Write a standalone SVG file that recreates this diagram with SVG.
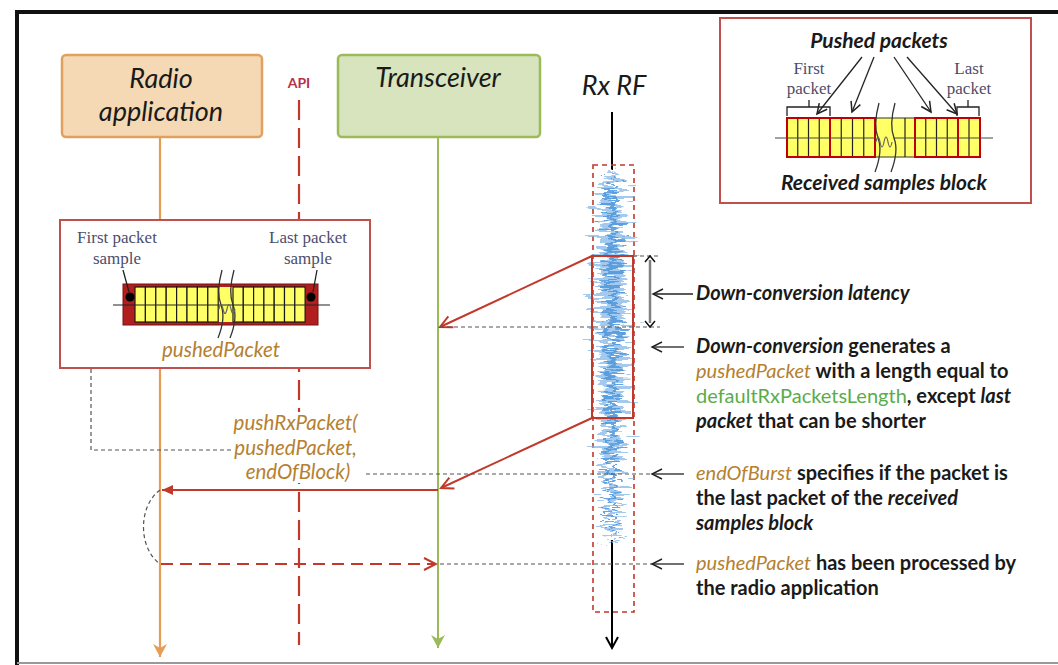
<svg xmlns="http://www.w3.org/2000/svg" width="1058" height="665" viewBox="0 0 1058 665">
  <style>
    .sans { font-family: Lato, 'Liberation Sans', sans-serif; }
    .serif { font-family: 'Liberation Serif', serif; font-size: 17px; fill: #4d4d6b; }
    .title { font-family: Lato, 'Liberation Sans', sans-serif; font-style: italic; font-size: 27px; fill: #1a1a1a; }
    .note { font-family: Lato, 'Liberation Sans', sans-serif; font-size: 20px; font-weight: 700; fill: #1a1a1a; }
    .it { font-style: italic; }
    .code { fill: #b5812f; font-style: italic; font-weight: 400; }
    .grn { fill: #5aac4a; font-weight: 400; }
    .gdash { stroke: #555; stroke-width: 1.2; stroke-dasharray: 4 3; fill: none; }
    .red { stroke: #c0392b; stroke-width: 2; fill: none; }
    .frame { fill: #fff; stroke: #c0504d; stroke-width: 2; }
    .cell { fill: #ffff66; stroke: #1a1a1a; stroke-width: 1.2; }
    .thin { stroke: #222; stroke-width: 1.3; fill: none; }
  </style>
  <defs>
    <marker id="arrOrange" markerUnits="userSpaceOnUse" viewBox="-14 -8 16 16" markerWidth="16" markerHeight="16" refX="0" refY="0" orient="auto">
      <path d="M0,0 L-13,-7 L-9,0 L-13,7 Z" fill="#e59d55"/>
    </marker>
    <marker id="arrGreen" markerUnits="userSpaceOnUse" viewBox="-14 -8 16 16" markerWidth="16" markerHeight="16" refX="0" refY="0" orient="auto">
      <path d="M0,0 L-13,-7 L-9,0 L-13,7 Z" fill="#9bbb59"/>
    </marker>
    <marker id="arrBlack" markerUnits="userSpaceOnUse" viewBox="-14 -8 16 16" markerWidth="16" markerHeight="16" refX="0" refY="0" orient="auto">
      <path d="M-11,-6 L0,0 L-11,6" fill="none" stroke="#000" stroke-width="2"/>
    </marker>
    <marker id="arrRedOpen" markerUnits="userSpaceOnUse" viewBox="-14 -8 16 16" markerWidth="16" markerHeight="16" refX="0" refY="0" orient="auto">
      <path d="M-12,-6 L0,0 L-12,6" fill="none" stroke="#c0392b" stroke-width="2"/>
    </marker>
    <marker id="arrRedFill" markerUnits="userSpaceOnUse" viewBox="-14 -8 16 16" markerWidth="16" markerHeight="16" refX="0" refY="0" orient="auto">
      <path d="M0,0 L-11,-5 L-11,5 Z" fill="#c0392b"/>
    </marker>
    <marker id="arrThin" markerUnits="userSpaceOnUse" viewBox="-14 -8 16 16" markerWidth="16" markerHeight="16" refX="0" refY="0" orient="auto">
      <path d="M-10,-5 L0,0 L-10,5" fill="none" stroke="#222" stroke-width="1.4"/>
    </marker>
    <marker id="arrPush" markerUnits="userSpaceOnUse" viewBox="-14 -8 16 16" markerWidth="16" markerHeight="16" refX="0" refY="0" orient="auto">
      <path d="M-10,-5 L0,0 L-10,5" fill="none" stroke="#222" stroke-width="1.5"/>
    </marker>
    <!-- horizontal jitter used to turn smooth shapes into a noisy RF trace -->
    <filter id="jitter" filterUnits="userSpaceOnUse" x="575" y="150" width="80" height="420" color-interpolation-filters="sRGB">
      <feTurbulence type="fractalNoise" baseFrequency="0.04 0.28" numOctaves="2" seed="7" result="n"/>
      <feColorMatrix in="n" type="matrix" values="1 0 0 0 0  0 0 0 0 0.5  0 0 0 0 0  0 0 0 0 1" result="m"/>
      <feDisplacementMap in="SourceGraphic" in2="m" scale="60" xChannelSelector="R" yChannelSelector="G" result="d"/>
      <feGaussianBlur in="d" stdDeviation="0.7"/>
    </filter>
    <filter id="jitter2" filterUnits="userSpaceOnUse" x="575" y="150" width="80" height="420" color-interpolation-filters="sRGB">
      <feTurbulence type="fractalNoise" baseFrequency="0.06 0.35" numOctaves="2" seed="23" result="n"/>
      <feColorMatrix in="n" type="matrix" values="1 0 0 0 0  0 0 0 0 0.5  0 0 0 0 0  0 0 0 0 1" result="m"/>
      <feDisplacementMap in="SourceGraphic" in2="m" scale="40" xChannelSelector="R" yChannelSelector="G" result="d"/>
      <feGaussianBlur in="d" stdDeviation="0.6"/>
    </filter>
  </defs>

  <rect width="1058" height="665" fill="#fff"/>
  <!-- outer frame -->
  <path d="M17,665 V12 H1058" fill="none" stroke="#111" stroke-width="4"/>
  <line x1="17" y1="663" x2="1058" y2="663" stroke="#999" stroke-width="2"/>

  <!-- lifelines -->
  <g id="lifelines">
    <line x1="160" y1="137" x2="160" y2="657" stroke="#e59d55" stroke-width="2.2" marker-end="url(#arrOrange)"/>
    <line x1="299" y1="100" x2="299" y2="645" stroke="#c0392b" stroke-width="2.2" stroke-dasharray="20 8"/>
    <line x1="438" y1="137" x2="438" y2="648" stroke="#9bbb59" stroke-width="2" marker-end="url(#arrGreen)"/>
    <line x1="612" y1="112" x2="612" y2="170" stroke="#000" stroke-width="2"/>
    <line x1="612" y1="540" x2="612" y2="648" stroke="#000" stroke-width="2" marker-end="url(#arrBlack)"/>
  </g>

  <!-- header nodes -->
  <g id="radio-app">
    <rect x="62" y="55" width="200" height="82" rx="4" fill="#f5d9b5" stroke="#e0a060" stroke-width="2.5"/>
    <text class="title" x="161" y="88" text-anchor="middle">Radio</text>
    <text class="title" x="161" y="121" text-anchor="middle">application</text>
  </g>
  <g id="api">
    <text class="sans" x="299" y="88" text-anchor="middle" font-size="14" font-weight="700" fill="#b8304a">API</text>
  </g>
  <g id="transceiver">
    <rect x="338" y="55" width="202" height="82" rx="4" fill="#d7e4bd" stroke="#9bbb59" stroke-width="2.5"/>
    <text class="title" x="438" y="87" text-anchor="middle">Transceiver</text>
  </g>
  <g id="rx-rf">
    <text class="title" x="614" y="95" text-anchor="middle">Rx RF</text>
  </g>

  <!-- received signal -->
  <g id="rx-signal">
    <rect x="593" y="165" width="41" height="447" fill="none" stroke="#c0392b" stroke-width="1.6" stroke-dasharray="5 4"/>
    <g filter="url(#jitter)" opacity="0.7">
      <path d="M612,167 L604,182 L601,230 L600,300 L602,400 L605,480 L608,530 L612,547 L616,530 L619,480 L622,400 L624,300 L623,230 L620,182 Z" fill="#7db4e8"/>
    </g>
    <g filter="url(#jitter2)" opacity="0.85">
      <path d="M612,170 L608,190 L607,300 L608,420 L610,520 L612,545 L614,520 L616,420 L617,300 L616,190 Z" fill="#4f97dc"/>
    </g>
    <rect x="592" y="256" width="41" height="162" fill="none" stroke="#c0392b" stroke-width="2"/>
  </g>

  <!-- packet detail inset -->
  <g id="packet-inset">
    <rect class="frame" x="60" y="220" width="310" height="148"/>
    <text class="serif" x="117" y="243" text-anchor="middle">First packet</text>
    <text class="serif" x="117" y="264" text-anchor="middle">sample</text>
    <text class="serif" x="308" y="243" text-anchor="middle">Last packet</text>
    <text class="serif" x="308" y="264" text-anchor="middle">sample</text>
    <rect x="123" y="284" width="195" height="41" fill="#b01e1e" stroke="#7a1010" stroke-width="1"/>
    <rect x="218" y="287" width="15" height="35" fill="#ffff66"/>
    <g class="cells">
      <rect class="cell" x="135" y="287" width="10.4" height="35"/>
      <rect class="cell" x="145.4" y="287" width="10.4" height="35"/>
      <rect class="cell" x="155.8" y="287" width="10.4" height="35"/>
      <rect class="cell" x="166.2" y="287" width="10.4" height="35"/>
      <rect class="cell" x="176.6" y="287" width="10.4" height="35"/>
      <rect class="cell" x="187" y="287" width="10.4" height="35"/>
      <rect class="cell" x="197.4" y="287" width="10.4" height="35"/>
      <rect class="cell" x="207.8" y="287" width="10.4" height="35"/>
      <rect class="cell" x="233" y="287" width="10.3" height="35"/>
      <rect class="cell" x="243.3" y="287" width="10.3" height="35"/>
      <rect class="cell" x="253.6" y="287" width="10.3" height="35"/>
      <rect class="cell" x="263.9" y="287" width="10.3" height="35"/>
      <rect class="cell" x="274.2" y="287" width="10.3" height="35"/>
      <rect class="cell" x="284.5" y="287" width="10.3" height="35"/>
      <rect class="cell" x="294.8" y="287" width="10.3" height="35"/>
    </g>
    <line x1="113" y1="305" x2="330" y2="305" stroke="#222" stroke-width="1"/>
    <path d="M222,270 Q216,292 221,305 T218,338 M234,270 Q228,292 233,305 T230,338" fill="none" stroke="#333" stroke-width="1.3"/>
    <path d="M219,309 q2,-9 4,0 q2,9 4,0 q2,-9 4,0 q2,9 4,0" fill="none" stroke="#666" stroke-width="1.2"/>
    <circle cx="130" cy="297" r="4.5" fill="#000"/>
    <circle cx="311" cy="297" r="4.5" fill="#000"/>
    <path d="M123,270 L129,292 M317,270 L313,292" class="thin"/>
    <text class="sans" x="221" y="357" text-anchor="middle" font-size="20.5" font-style="italic" fill="#b5812f">pushedPacket</text>
  </g>

  <!-- received samples block inset -->
  <g id="block-inset">
    <rect class="frame" x="720" y="18" width="311" height="185"/>
    <text class="sans" x="879" y="48" text-anchor="middle" font-size="21" font-weight="700" font-style="italic" fill="#1a1a1a">Pushed packets</text>
    <text class="serif" x="809" y="74" text-anchor="middle">First</text>
    <text class="serif" x="809" y="94" text-anchor="middle">packet</text>
    <text class="serif" x="969" y="74" text-anchor="middle">Last</text>
    <text class="serif" x="969" y="94" text-anchor="middle">packet</text>
    <path d="M787,116 V107 H830 V116 M809,107 V100 M957,116 V107 H979 V116 M968,107 V100" class="thin"/>
    <rect x="787" y="118" width="193" height="39" fill="#ffff66" stroke="#333" stroke-width="1"/>
    <path d="M797.75,118 V157 M808.5,118 V157 M819.25,118 V157 M841.25,118 V157 M852.5,118 V157 M863.75,118 V157 M905,118 V157 M925.75,118 V157 M936.5,118 V157 M947.25,118 V157 M969,118 V157" stroke="#222" stroke-width="1.2"/>
    <g fill="none" stroke="#c00000" stroke-width="2">
      <rect x="787" y="118" width="43" height="39"/>
      <rect x="830" y="118" width="45" height="39"/>
      <rect x="915" y="118" width="43" height="39"/>
      <rect x="958" y="118" width="22" height="39"/>
    </g>
    <line x1="775" y1="138" x2="993" y2="138" stroke="#444" stroke-width="1"/>
    <rect x="876" y="119" width="18" height="37" fill="#ffff66"/>
    <path d="M879,103 Q873,125 878,138 T875,172 M895,103 Q889,125 894,138 T891,172" fill="none" stroke="#333" stroke-width="1.3"/>
    <path d="M876,142 q2,-10 4,0 q2,10 4,0 q2,-10 4,0 q2,10 4,0" fill="none" stroke="#666" stroke-width="1.2"/>
    <g class="thin" marker-end="url(#arrPush)">
      <line x1="862" y1="57" x2="817" y2="114"/>
      <line x1="874" y1="57" x2="852" y2="112"/>
      <line x1="894" y1="57" x2="931" y2="112"/>
      <line x1="907" y1="57" x2="957" y2="114"/>
    </g>
    <text class="sans" x="884" y="190" text-anchor="middle" font-size="21" font-weight="700" font-style="italic" fill="#1a1a1a">Received samples block</text>
  </g>

  <!-- connectors -->
  <g id="connectors">
    <line class="red" x1="592" y1="256" x2="440" y2="327" marker-end="url(#arrRedOpen)"/>
    <line class="red" x1="592" y1="418" x2="441" y2="488" marker-end="url(#arrRedOpen)"/>
    <line class="red" x1="438" y1="490" x2="162" y2="490" marker-end="url(#arrRedFill)"/>
    <line x1="161" y1="564" x2="436" y2="564" stroke="#c0392b" stroke-width="2" stroke-dasharray="12 7" marker-end="url(#arrRedOpen)"/>
    <path class="gdash" d="M91,369 V450 H234"/>
    <path class="gdash" d="M160,490 C138,506 138,548 160,564"/>
    <path class="gdash" d="M440,327 H660 M633,256 H660 M352,474 H652 M440,564 H652"/>
    <line x1="650" y1="260" x2="650" y2="323" stroke="#7f7f7f" stroke-width="2.5"/>
    <path d="M645,262 L650,256 L655,262 M645,321 L650,327 L655,321" fill="none" stroke="#111" stroke-width="1.5"/>
    <g class="thin" marker-end="url(#arrThin)">
      <line x1="693" y1="294" x2="653" y2="294"/>
      <line x1="684" y1="347" x2="652" y2="347"/>
      <line x1="684" y1="474" x2="652" y2="474"/>
      <line x1="684" y1="564" x2="652" y2="564"/>
    </g>
  </g>

  <!-- call label -->
  <g id="push-call">
    <rect x="233" y="412" width="131" height="71" fill="#fff"/>
    <text class="sans" font-size="20.5" font-style="italic" fill="#b5812f" text-anchor="middle">
      <tspan x="298" y="430">pushRxPacket(</tspan>
      <tspan x="298" y="455">pushedPacket,</tspan>
      <tspan x="298" y="479">endOfBlock)</tspan>
    </text>
  </g>

  <!-- annotations -->
  <g id="notes">
    <text class="note" x="696" y="300"><tspan class="it">Down-conversion latency</tspan></text>
    <text class="note" x="696" y="353"><tspan class="it">Down-conversion</tspan> generates a</text>
    <text class="note" x="696" y="378"><tspan class="code">pushedPacket</tspan> with a length equal to</text>
    <text class="note" x="696" y="403"><tspan class="grn">defaultRxPacketsLength</tspan>, except <tspan class="it">last</tspan></text>
    <text class="note" x="696" y="428"><tspan class="it">packet</tspan> that can be shorter</text>
    <text class="note" x="696" y="480"><tspan class="code">endOfBurst</tspan> specifies if the packet is</text>
    <text class="note" x="696" y="505">the last packet of the <tspan class="it">received</tspan></text>
    <text class="note" x="696" y="530"><tspan class="it">samples block</tspan></text>
    <text class="note" x="696" y="570"><tspan class="code">pushedPacket</tspan> has been processed by</text>
    <text class="note" x="696" y="595">the radio application</text>
  </g>
</svg>
